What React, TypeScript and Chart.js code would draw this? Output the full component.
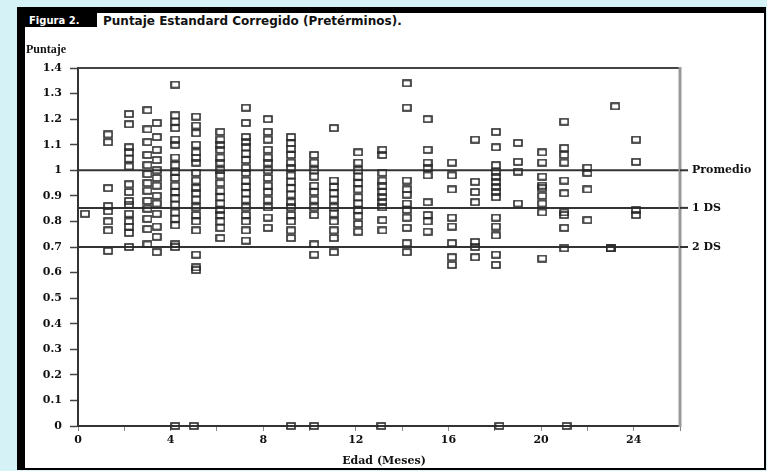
import React, { useEffect, useRef } from 'react';
import { Chart, registerables } from 'chart.js';

Chart.register(...registerables);

// Age (months) of each column of observations
const columnAges = [
  0.3, 1.3, 2.2, 3.0, 3.4, 4.2, 5.1, 6.15, 7.25, 8.2, 9.2, 10.2, 11.05, 12.1,
  13.15, 14.2, 15.1, 16.15, 17.15, 18.05, 19.0, 20.05, 21.0, 22.0, 23.0, 23.2, 24.1,
];

// Corrected standard scores observed at each age column
const columnScores = [
  [0.83],
  [1.14, 1.11, 0.93, 0.86, 0.84, 0.8, 0.765, 0.685],
  [1.22, 1.18, 1.09, 1.07, 1.045, 1.015, 0.945, 0.915, 0.88, 0.865, 0.83, 0.8, 0.78, 0.755, 0.7],
  [1.235, 1.16, 1.11, 1.06, 1.02, 0.985, 0.95, 0.92, 0.88, 0.85, 0.81, 0.77, 0.71],
  [1.185, 1.13, 1.08, 1.04, 1.0, 0.97, 0.94, 0.9, 0.87, 0.83, 0.78, 0.74, 0.68],
  [1.335, 1.215, 1.19, 1.165, 1.12, 1.1, 1.05, 1.02, 0.995, 0.97, 0.94, 0.915, 0.89, 0.865, 0.835, 0.81, 0.785, 0.71, 0.7],
  [1.21, 1.175, 1.145, 1.1, 1.07, 1.05, 1.03, 0.99, 0.96, 0.93, 0.91, 0.885, 0.855, 0.825, 0.8, 0.765, 0.67, 0.62, 0.61],
  [1.15, 1.12, 1.1, 1.08, 1.05, 1.03, 1.0, 0.98, 0.95, 0.92, 0.895, 0.87, 0.845, 0.825, 0.8, 0.775, 0.735],
  [1.245, 1.185, 1.13, 1.11, 1.09, 1.065, 1.04, 1.01, 0.99, 0.96, 0.935, 0.91, 0.885, 0.855, 0.825, 0.8, 0.765, 0.725],
  [1.2, 1.15, 1.12, 1.08, 1.05, 1.03, 1.0, 0.97, 0.94, 0.915, 0.885, 0.855, 0.815, 0.775],
  [1.13, 1.105, 1.085, 1.06, 1.03, 1.01, 0.98, 0.955, 0.93, 0.905, 0.875, 0.855, 0.825, 0.8, 0.765, 0.735],
  [1.06, 1.03, 1.0, 0.975, 0.94, 0.915, 0.885, 0.855, 0.825, 0.71, 0.67],
  [1.165, 0.96, 0.935, 0.91, 0.885, 0.855, 0.83, 0.8, 0.765, 0.735, 0.68],
  [1.07, 1.03, 1.0, 0.975, 0.95, 0.925, 0.895, 0.87, 0.845, 0.82, 0.79, 0.76],
  [1.08, 1.06, 0.99, 0.96, 0.94, 0.915, 0.895, 0.875, 0.855, 0.805, 0.765],
  [1.34, 1.245, 0.96, 0.925, 0.905, 0.87, 0.845, 0.815, 0.775, 0.715, 0.68],
  [1.2, 1.08, 1.03, 1.01, 0.98, 0.875, 0.825, 0.8, 0.76],
  [1.03, 0.98, 0.925, 0.815, 0.78, 0.715, 0.66, 0.63],
  [1.12, 0.955, 0.915, 0.875, 0.72, 0.7, 0.66],
  [1.15, 1.09, 1.02, 0.995, 0.975, 0.955, 0.935, 0.915, 0.895, 0.815, 0.78, 0.745, 0.67, 0.63],
  [1.107, 1.033, 0.995, 0.87],
  [1.07, 1.03, 0.975, 0.94, 0.93, 0.9, 0.87, 0.835, 0.655],
  [1.19, 1.087, 1.06, 1.03, 0.96, 0.91, 0.835, 0.825, 0.775, 0.695],
  [1.01, 0.99, 0.925, 0.805],
  [0.695, 0.695],
  [1.25],
  [1.12, 1.033, 0.845, 0.825],
];

// Ages of children with a score of 0
const zeroScoreAges = [4.2, 5.0, 9.2, 10.2, 13.1, 18.2, 21.1];

// Reference lines
const referenceValues = [1.0, 0.853, 0.7];
const referenceLabels = ['Promedio', '1 DS', '2 DS'];

// Axis ticks
const yTickValues = [0, 0.1, 0.2, 0.3, 0.4, 0.5, 0.6, 0.7, 0.8, 0.9, 1, 1.1, 1.2, 1.3, 1.4];
const yTickLabels = ['0', '0.1', '0.2', '0.3', '0.4', '0.5', '0.6', '0.7', '0.8', '0.9', '1', '1.1', '1.2', '1.3', '1.4'];
const xTickValues = [0, 2, 4, 6, 8, 10, 12, 14, 16, 18, 20, 22, 24, 26];
const xTickLabels = ['0', '', '4', '', '8', '', '12', '', '16', '', '20', '', '24', ''];

const figureTag = 'Figura 2.';
const figureTitle = 'Puntaje Estandard Corregido (Pretérminos).';
const yAxisTitle = 'Puntaje';
const xAxisTitle = 'Edad (Meses)';

const SERIF_BOLD = 'bold 11px "DejaVu Serif"';

export default function App() {
  const canvasRef = useRef<HTMLCanvasElement | null>(null);

  useEffect(() => {
    const canvas = canvasRef.current;
    if (!canvas) return;

    const marker = document.createElement('canvas');
    marker.width = 10;
    marker.height = 8;
    const mctx = marker.getContext('2d')!;
    mctx.strokeStyle = '#2a2a2a';
    mctx.lineWidth = 1.6;
    mctx.strokeRect(1, 1, 8, 6);

    const points: { x: number; y: number }[] = [];
    columnAges.forEach((age, i) => {
      columnScores[i].forEach((s) => points.push({ x: age, y: s }));
    });
    zeroScoreAges.forEach((age) => points.push({ x: age, y: 0 }));

    const decorPlugin = {
      id: 'decor',
      afterDraw(chart: any) {
        const { ctx, chartArea } = chart;
        const yScale = chart.scales.y;
        const { left, right, top, bottom } = chartArea;
        ctx.save();
        // top frame
        ctx.strokeStyle = '#444';
        ctx.lineWidth = 2;
        ctx.beginPath();
        ctx.moveTo(left, top);
        ctx.lineTo(right, top);
        ctx.stroke();
        // right frame
        ctx.strokeStyle = '#999';
        ctx.lineWidth = 3;
        ctx.beginPath();
        ctx.moveTo(right, top - 1);
        ctx.lineTo(right, bottom + 1);
        ctx.stroke();
        // reference line extensions and labels
        ctx.fillStyle = '#111';
        ctx.font = SERIF_BOLD;
        ctx.textBaseline = 'middle';
        ctx.textAlign = 'left';
        referenceValues.forEach((v, i) => {
          const y = yScale.getPixelForValue(v);
          ctx.strokeStyle = '#333';
          ctx.lineWidth = 2;
          ctx.beginPath();
          ctx.moveTo(right, y);
          ctx.lineTo(right + 8, y);
          ctx.stroke();
          ctx.fillText(referenceLabels[i], right + 12, y);
        });
        // axis titles
        ctx.font = 'bold 12px "Liberation Serif"';
        ctx.textAlign = 'left';
        ctx.fillText(yAxisTitle, 1, 23);
        ctx.font = SERIF_BOLD;
        ctx.textAlign = 'center';
        ctx.fillText(xAxisTitle, (left + right) / 2 + 5, 434);
        ctx.restore();
      },
    };

    const chart = new Chart(canvas, {
      type: 'scatter',
      data: {
        datasets: [
          {
            data: points,
            pointStyle: marker as any,
            pointRadius: 4,
            pointHoverRadius: 4,
            borderColor: '#2e2e2e',
            backgroundColor: 'transparent',
            clip: false as any,
          },
          ...referenceValues.map((v) => ({
            data: [
              { x: 0, y: v },
              { x: 26, y: v },
            ],
            showLine: true,
            borderColor: '#333',
            borderWidth: 2,
            pointRadius: 0,
            pointHoverRadius: 0,
          })),
        ],
      },
      options: {
        responsive: false,
        animation: false,
        events: [],
        layout: { padding: { top: 41, right: 84, left: 0, bottom: 0 } },
        plugins: {
          legend: { display: false },
          tooltip: { enabled: false },
        },
        scales: {
          x: {
            type: 'linear',
            min: 0,
            max: 26,
            afterBuildTicks: (s: any) => {
              s.ticks = xTickValues.map((v) => ({ value: v }));
            },
            afterFit: (s: any) => {
              s.height = 42;
            },
            ticks: {
              autoSkip: false,
              maxRotation: 0,
              padding: 3,
              color: '#111',
              font: { family: 'DejaVu Serif', size: 11, weight: 'bold' },
              callback: (_v: any, i: number) => xTickLabels[i],
            },
            grid: {
              drawOnChartArea: false,
              tickLength: 5,
              tickColor: '#888',
              tickWidth: 1,
            },
            border: { color: '#333', width: 2 },
          },
          y: {
            type: 'linear',
            min: 0,
            max: 1.4,
            afterBuildTicks: (s: any) => {
              s.ticks = yTickValues.map((v) => ({ value: v }));
            },
            afterFit: (s: any) => {
              s.width = 53;
            },
            ticks: {
              autoSkip: false,
              padding: 8,
              color: '#111',
              font: { family: 'DejaVu Serif', size: 11, weight: 'bold' },
              callback: (_v: any, i: number) => yTickLabels[i],
            },
            grid: {
              drawOnChartArea: false,
              tickLength: 8,
              tickColor: '#444',
              tickWidth: 1.5,
            },
            border: { color: '#333', width: 2 },
          },
        },
      },
      plugins: [decorPlugin],
    } as any);

    return () => chart.destroy();
  }, []);

  return (
    <div style={{ position: 'fixed', left: 0, top: 0, right: 0, bottom: 0, background: '#d5f2f7' }}>
      <div
        style={{
          position: 'absolute',
          left: 17,
          top: 7,
          width: 749,
          height: 463,
          background: '#000',
        }}
      >
        <div
          style={{
            position: 'absolute',
            left: 8,
            top: 6,
            width: 739,
            height: 455,
            background: '#fff',
          }}
        >
          <div
            style={{
              position: 'absolute',
              left: 0,
              top: 0,
              width: 72,
              height: 14,
              boxSizing: 'border-box',
              paddingLeft: 4,
              background: '#000',
              color: '#fff',
              font: 'bold 10px "DejaVu Sans"',
              lineHeight: '15px',
              whiteSpace: 'nowrap',
            }}
          >
            {figureTag}
          </div>
          <div
            style={{
              position: 'absolute',
              left: 78,
              top: 0,
              height: 15,
              color: '#111',
              font: 'bold 12px "DejaVu Sans"',
              lineHeight: '16px',
              whiteSpace: 'nowrap',
            }}
          >
            {figureTitle}
          </div>
          <canvas
            ref={canvasRef}
            width={739}
            height={441}
            style={{ position: 'absolute', left: 0, top: 14, display: 'block' }}
          />
        </div>
      </div>
    </div>
  );
}
